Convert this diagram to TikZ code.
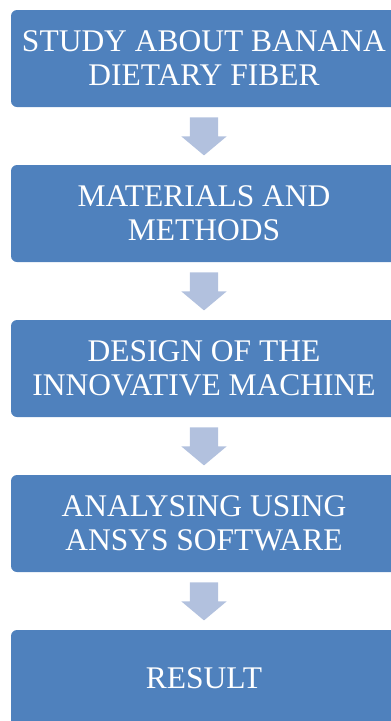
\documentclass[tikz,border=0pt]{standalone}
\usepackage{fontspec}
\setmainfont{Liberation Serif}
\usepackage{tikz}
\usetikzlibrary{shapes.arrows}
\definecolor{stageblue}{RGB}{79,129,189}
\definecolor{arrowblue}{RGB}{178,193,222}

\begin{document}
\begin{tikzpicture}[x=1pt,y=1pt,
      every node/.style={font=\fontsize{31.5}{34}\selectfont},
      stage/.style={fill=stageblue,text=white,rounded corners=6pt,minimum width=386pt,
                    minimum height=97pt,inner sep=0pt,align=center},
      downarrow/.style={single arrow,fill=arrowblue,draw=none,rotate=-90,inner xsep=0pt,
                    inner ysep=14pt,minimum height=38pt,single arrow head extend=8.5pt,
                    single arrow tip angle=100,anchor=tail}]
    \useasboundingbox (0,0) rectangle (391,-721);
    \clip (0,0) rectangle (391,-721);
    \foreach \i/\t in {1/{STUDY ABOUT BANANA\\DIETARY FIBER},
                       2/{MATERIALS AND\\METHODS},
                       3/{DESIGN OF THE\\INNOVATIVE MACHINE},
                       4/{ANALYSING USING\\ANSYS SOFTWARE},
                       5/{RESULT}}
      \node[stage] (s\i) at (204,{-58.5-155*(\i-1)}) {\t};
    % block arrows between the stages
    \foreach \i in {1,...,4}
      \node[downarrow] (a\i) at ([yshift=-10pt]s\i.south) {};
  \end{tikzpicture}
\end{document}
